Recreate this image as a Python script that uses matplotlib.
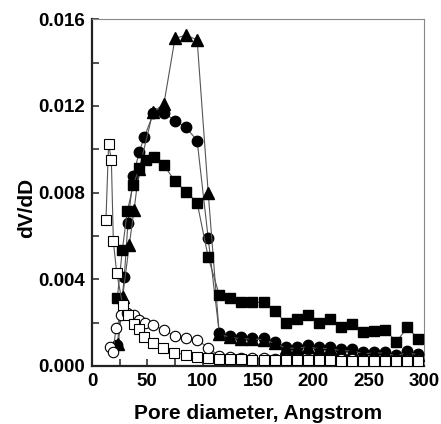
import matplotlib
matplotlib.use("Agg")
import matplotlib.pyplot as plt
from matplotlib.ticker import MultipleLocator

plt.rcParams['font.family'] = ['Liberation Sans', 'DejaVu Sans']

tail_x = [115, 125, 135, 145, 155, 165, 175, 185, 195, 205, 215, 225, 235, 245, 255, 265, 275, 285, 295]

# open squares
osq_x = [12.6, 15, 17.5, 19.3, 22.3, 27.7, 32.8, 37.9, 42.7, 46.9, 55.4, 64.4, 74.3, 84.9, 95, 105] + tail_x
osq_y = [0.00672, 0.01025, 0.0095, 0.00575, 0.00431, 0.00282, 0.00235, 0.00194, 0.00169, 0.00135,
         0.00105, 0.00082, 0.00062, 0.00051, 0.00043, 0.00038,
         0.00032, 0.00030, 0.00030, 0.00029, 0.00029, 0.00028, 0.00028, 0.00027, 0.00027, 0.00026,
         0.00026, 0.00025, 0.00025, 0.00024, 0.00024, 0.00024, 0.00023, 0.00023, 0.00023]

# open circles
oci_x = [16.5, 19, 21.7, 26.2, 32, 38, 42.7, 47.5, 55, 65, 75, 85, 95, 105] + tail_x
oci_y = [0.00089, 0.00066, 0.00174, 0.00235, 0.00243, 0.00235, 0.0021, 0.00197, 0.00189, 0.00166,
         0.00138, 0.00128, 0.0012, 0.00085,
         0.00045, 0.00040, 0.00037, 0.00036, 0.00035, 0.00034, 0.00033, 0.00033, 0.00032, 0.00031,
         0.00031, 0.00030, 0.00030, 0.00029, 0.00029, 0.00028, 0.00028, 0.00027, 0.00027]

# filled squares
fsq_x = [22.9, 27.4, 31.9, 37.3, 42.7, 48.5, 55.7, 65, 74.9, 84.9, 95, 105] + tail_x
fsq_y = [0.00315, 0.00535, 0.00714, 0.00835, 0.00915, 0.0095, 0.00966, 0.00926, 0.00854, 0.00805,
         0.00754, 0.00502,
         0.00328, 0.00312, 0.00294, 0.00294, 0.00294, 0.00255, 0.0020, 0.00215, 0.00235, 0.0020,
         0.00217, 0.00178, 0.00194, 0.00155, 0.00163, 0.00166, 0.00112, 0.00178, 0.00123]

# filled circles
fci_x = [22.9, 29.2, 32.5, 37.3, 42.7, 47.2, 55.4, 65, 75, 85, 95, 105] + tail_x
fci_y = [0.00097, 0.00412, 0.00662, 0.00877, 0.00989, 0.01055, 0.01166, 0.01169, 0.01132, 0.01101,
         0.0104, 0.00589,
         0.00151, 0.00138, 0.00132, 0.0013, 0.00128, 0.00112, 0.00089, 0.00089, 0.00097, 0.00086,
         0.00089, 0.00077, 0.00077, 0.00063, 0.00066, 0.00066, 0.00051, 0.0007, 0.00055]

# filled triangles
ftr_x = [23.8, 27.7, 33.7, 38, 42.7, 55, 65, 75, 85, 95, 105] + tail_x
ftr_y = [0.0010, 0.0032, 0.0056, 0.0072, 0.0091, 0.0117, 0.0121, 0.01512, 0.01527, 0.01505, 0.0080,
         0.00148, 0.00132, 0.00126, 0.00124, 0.00122, 0.00105, 0.00082, 0.00082, 0.00088, 0.00080,
         0.00082, 0.00070, 0.00070, 0.00057, 0.00060, 0.00060, 0.00046, 0.00064, 0.00050]

fig = plt.figure(figsize=(4.41, 4.24), dpi=100)
ax = fig.add_axes([0.2086, 0.1368, 0.7529, 0.8177])

lc = '#555555'
lw = 0.8
ms = 7
ax.plot(fci_x, fci_y, '-', color=lc, lw=lw, marker='o', ms=ms + 0.5, mfc='black', mec='black', zorder=3)
ax.plot(ftr_x, ftr_y, '-', color=lc, lw=lw, marker='^', ms=ms + 1.5, mfc='black', mec='black', zorder=3)
ax.plot(fsq_x, fsq_y, '-', color=lc, lw=lw, marker='s', ms=ms - 0.5, mfc='black', mec='black', zorder=3)
ax.plot(oci_x, oci_y, '-', color=lc, lw=lw, marker='o', ms=ms + 0.5, mfc='white', mec='black', mew=0.8, zorder=4)
ax.plot(osq_x, osq_y, '-', color=lc, lw=lw, marker='s', ms=ms - 0.5, mfc='white', mec='black', mew=0.8, zorder=4)

ax.set_xlim(0, 300)
ax.set_ylim(0, 0.016)
ax.xaxis.set_major_locator(MultipleLocator(50))
ax.xaxis.set_minor_locator(MultipleLocator(25))
ax.yaxis.set_major_locator(MultipleLocator(0.004))
ax.yaxis.set_minor_locator(MultipleLocator(0.002))
ax.yaxis.set_major_formatter(matplotlib.ticker.FormatStrFormatter('%.3f'))

ax.tick_params(which='both', direction='in', top=False, right=False, width=1.2, color='#333333')
ax.tick_params(which='major', length=5, labelsize=13.5, pad=5)
ax.tick_params(which='minor', length=5)
for lab in ax.get_xticklabels() + ax.get_yticklabels():
    lab.set_fontweight('bold')

for s in ['left', 'bottom']:
    ax.spines[s].set_linewidth(1.6)
    ax.spines[s].set_color('#222222')
for s in ['top', 'right']:
    ax.spines[s].set_linewidth(0.8)
    ax.spines[s].set_color('#888888')

fig.text(258 / 441, 1 - 419 / 424, 'Pore diameter, Angstrom', fontsize=15, fontweight='bold',
         ha='center', va='baseline')
fig.text(27 / 441, 1 - 208 / 424, 'dV/dD', fontsize=15, fontweight='bold',
         ha='center', va='center', rotation=90)

fig.savefig('out.png', dpi=100)
